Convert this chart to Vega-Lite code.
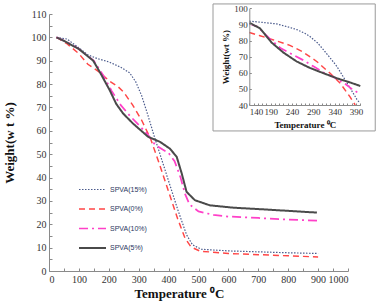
{
  "$schema": "https://vega.github.io/schema/vega-lite/v6.json",
  "autosize": {"type": "none"},
  "padding": {"left": 49, "top": 14, "right": 28, "bottom": 37},
  "width": 299,
  "height": 257,
  "background": "white",
  "config": {"view": {"stroke": null}, "axis": {"grid": false}},
  "datasets": {
    "main": [
      {"s": "SPVA(15%)", "T": 25, "W": 100}, {"s": "SPVA(15%)", "T": 60, "W": 99.3}, {"s": "SPVA(15%)", "T": 100, "W": 95.5}, {"s": "SPVA(15%)", "T": 130, "W": 92.5}, {"s": "SPVA(15%)", "T": 160, "W": 91}, {"s": "SPVA(15%)", "T": 200, "W": 89.5}, {"s": "SPVA(15%)", "T": 240, "W": 87.2}, {"s": "SPVA(15%)", "T": 270, "W": 84.8}, {"s": "SPVA(15%)", "T": 290, "W": 81}, {"s": "SPVA(15%)", "T": 310, "W": 75}, {"s": "SPVA(15%)", "T": 330, "W": 67}, {"s": "SPVA(15%)", "T": 350, "W": 58.5}, {"s": "SPVA(15%)", "T": 370, "W": 50.5}, {"s": "SPVA(15%)", "T": 400, "W": 38.5}, {"s": "SPVA(15%)", "T": 430, "W": 26.5}, {"s": "SPVA(15%)", "T": 460, "W": 15.5}, {"s": "SPVA(15%)", "T": 480, "W": 11.2}, {"s": "SPVA(15%)", "T": 510, "W": 9.3}, {"s": "SPVA(15%)", "T": 600, "W": 8.6}, {"s": "SPVA(15%)", "T": 700, "W": 8.2}, {"s": "SPVA(15%)", "T": 800, "W": 7.8}, {"s": "SPVA(15%)", "T": 900, "W": 7.5},
      {"s": "SPVA(0%)", "T": 25, "W": 100}, {"s": "SPVA(0%)", "T": 60, "W": 97.3}, {"s": "SPVA(0%)", "T": 100, "W": 93}, {"s": "SPVA(0%)", "T": 130, "W": 88.5}, {"s": "SPVA(0%)", "T": 170, "W": 85}, {"s": "SPVA(0%)", "T": 200, "W": 81.5}, {"s": "SPVA(0%)", "T": 230, "W": 79}, {"s": "SPVA(0%)", "T": 250, "W": 76.5}, {"s": "SPVA(0%)", "T": 280, "W": 71}, {"s": "SPVA(0%)", "T": 310, "W": 64.5}, {"s": "SPVA(0%)", "T": 340, "W": 56.5}, {"s": "SPVA(0%)", "T": 370, "W": 45.5}, {"s": "SPVA(0%)", "T": 400, "W": 34}, {"s": "SPVA(0%)", "T": 430, "W": 22.5}, {"s": "SPVA(0%)", "T": 455, "W": 14}, {"s": "SPVA(0%)", "T": 475, "W": 10.3}, {"s": "SPVA(0%)", "T": 505, "W": 8.5}, {"s": "SPVA(0%)", "T": 600, "W": 7.5}, {"s": "SPVA(0%)", "T": 700, "W": 7}, {"s": "SPVA(0%)", "T": 800, "W": 6.5}, {"s": "SPVA(0%)", "T": 900, "W": 6},
      {"s": "SPVA(10%)", "T": 25, "W": 100}, {"s": "SPVA(10%)", "T": 60, "W": 98}, {"s": "SPVA(10%)", "T": 100, "W": 95}, {"s": "SPVA(10%)", "T": 150, "W": 90}, {"s": "SPVA(10%)", "T": 180, "W": 84}, {"s": "SPVA(10%)", "T": 210, "W": 77}, {"s": "SPVA(10%)", "T": 240, "W": 71}, {"s": "SPVA(10%)", "T": 270, "W": 66.5}, {"s": "SPVA(10%)", "T": 300, "W": 62.5}, {"s": "SPVA(10%)", "T": 330, "W": 58.5}, {"s": "SPVA(10%)", "T": 355, "W": 54}, {"s": "SPVA(10%)", "T": 380, "W": 52}, {"s": "SPVA(10%)", "T": 400, "W": 50.5}, {"s": "SPVA(10%)", "T": 420, "W": 47}, {"s": "SPVA(10%)", "T": 440, "W": 40}, {"s": "SPVA(10%)", "T": 455, "W": 33}, {"s": "SPVA(10%)", "T": 470, "W": 28.5}, {"s": "SPVA(10%)", "T": 500, "W": 25.5}, {"s": "SPVA(10%)", "T": 550, "W": 24}, {"s": "SPVA(10%)", "T": 600, "W": 23.3}, {"s": "SPVA(10%)", "T": 700, "W": 22.7}, {"s": "SPVA(10%)", "T": 800, "W": 22}, {"s": "SPVA(10%)", "T": 900, "W": 21.5},
      {"s": "SPVA(5%)", "T": 25, "W": 100}, {"s": "SPVA(5%)", "T": 50, "W": 98.5}, {"s": "SPVA(5%)", "T": 100, "W": 95}, {"s": "SPVA(5%)", "T": 148, "W": 90}, {"s": "SPVA(5%)", "T": 175, "W": 84}, {"s": "SPVA(5%)", "T": 203, "W": 77.4}, {"s": "SPVA(5%)", "T": 225, "W": 71.5}, {"s": "SPVA(5%)", "T": 248, "W": 67.4}, {"s": "SPVA(5%)", "T": 281, "W": 63.1}, {"s": "SPVA(5%)", "T": 332, "W": 57.4}, {"s": "SPVA(5%)", "T": 371, "W": 55.3}, {"s": "SPVA(5%)", "T": 404, "W": 52.4}, {"s": "SPVA(5%)", "T": 427, "W": 48.9}, {"s": "SPVA(5%)", "T": 444, "W": 41.7}, {"s": "SPVA(5%)", "T": 460, "W": 33.9}, {"s": "SPVA(5%)", "T": 488, "W": 30.3}, {"s": "SPVA(5%)", "T": 538, "W": 28.1}, {"s": "SPVA(5%)", "T": 617, "W": 27.1}, {"s": "SPVA(5%)", "T": 728, "W": 26.3}, {"s": "SPVA(5%)", "T": 896, "W": 25}
    ],
    "inset": [
      {"s": "SPVA(15%)", "T": 140, "W": 92}, {"s": "SPVA(15%)", "T": 170, "W": 91.3}, {"s": "SPVA(15%)", "T": 204, "W": 90.3}, {"s": "SPVA(15%)", "T": 230, "W": 88.5}, {"s": "SPVA(15%)", "T": 251, "W": 86.8}, {"s": "SPVA(15%)", "T": 270, "W": 84.5}, {"s": "SPVA(15%)", "T": 282, "W": 82.5}, {"s": "SPVA(15%)", "T": 300, "W": 78.5}, {"s": "SPVA(15%)", "T": 313, "W": 74.5}, {"s": "SPVA(15%)", "T": 330, "W": 69}, {"s": "SPVA(15%)", "T": 345, "W": 64}, {"s": "SPVA(15%)", "T": 360, "W": 57.5}, {"s": "SPVA(15%)", "T": 375, "W": 51}, {"s": "SPVA(15%)", "T": 392, "W": 43.5}, {"s": "SPVA(15%)", "T": 398, "W": 41.5},
      {"s": "SPVA(0%)", "T": 140, "W": 85}, {"s": "SPVA(0%)", "T": 165, "W": 83}, {"s": "SPVA(0%)", "T": 195, "W": 80.5}, {"s": "SPVA(0%)", "T": 235, "W": 77}, {"s": "SPVA(0%)", "T": 265, "W": 73}, {"s": "SPVA(0%)", "T": 298, "W": 67}, {"s": "SPVA(0%)", "T": 330, "W": 59.5}, {"s": "SPVA(0%)", "T": 353, "W": 53.5}, {"s": "SPVA(0%)", "T": 376, "W": 45}, {"s": "SPVA(0%)", "T": 388, "W": 40},
      {"s": "SPVA(10%)", "T": 140, "W": 90.5}, {"s": "SPVA(10%)", "T": 160, "W": 88.5}, {"s": "SPVA(10%)", "T": 190, "W": 80.5}, {"s": "SPVA(10%)", "T": 215, "W": 75}, {"s": "SPVA(10%)", "T": 240, "W": 71.5}, {"s": "SPVA(10%)", "T": 265, "W": 68}, {"s": "SPVA(10%)", "T": 290, "W": 64}, {"s": "SPVA(10%)", "T": 315, "W": 60}, {"s": "SPVA(10%)", "T": 340, "W": 57}, {"s": "SPVA(10%)", "T": 365, "W": 53}, {"s": "SPVA(10%)", "T": 380, "W": 50}, {"s": "SPVA(10%)", "T": 398, "W": 47},
      {"s": "SPVA(5%)", "T": 140, "W": 91}, {"s": "SPVA(5%)", "T": 165, "W": 87.6}, {"s": "SPVA(5%)", "T": 192, "W": 78.8}, {"s": "SPVA(5%)", "T": 220, "W": 72.5}, {"s": "SPVA(5%)", "T": 251, "W": 67}, {"s": "SPVA(5%)", "T": 282, "W": 63}, {"s": "SPVA(5%)", "T": 313, "W": 59.8}, {"s": "SPVA(5%)", "T": 345, "W": 56.6}, {"s": "SPVA(5%)", "T": 376, "W": 54}, {"s": "SPVA(5%)", "T": 400, "W": 51.8}
    ],
    "box": [{"T": 55, "T2": 435, "W": 23.9, "W2": 102.7}]
  },
  "layer": [
    {
      "data": {"name": "main"},
      "mark": {"type": "line"},
      "encoding": {
        "x": {"field": "T", "type": "quantitative", "scale": {"domain": [0, 1000], "nice": false},
          "axis": {"values": [0,50,100,150,200,250,300,350,400,450,500,550,600,650,700,750,800,850,900,950,1000],
            "format": "d",
            "labelExpr": "datum.value % 100 === 0 ? datum.label : ''",
            "tickSize": -3, "labelPadding": 6, "domainColor": "#8a8a8a", "tickColor": "#8a8a8a",
            "labelFont": "Liberation Serif", "labelFontSize": 10, "labelColor": "#333333",
            "title": "Temperature ⁰C", "titleFont": "Liberation Serif", "titleFontSize": 13, "titleFontWeight": "bold", "titleColor": "#111111", "titleX": 130, "titlePadding": 3}},
        "y": {"field": "W", "type": "quantitative", "scale": {"domain": [0, 110], "nice": false},
          "axis": {"values": [0,5,10,15,20,25,30,35,40,45,50,55,60,65,70,75,80,85,90,95,100,105,110],
            "labelExpr": "datum.value % 10 === 0 ? datum.label : ''",
            "tickSize": -3, "labelPadding": 6, "domainColor": "#8a8a8a", "tickColor": "#8a8a8a",
            "labelFont": "Liberation Serif", "labelFontSize": 10, "labelColor": "#333333",
            "title": "Weight(w t %)", "titleFont": "Liberation Serif", "titleFontSize": 13, "titleFontWeight": "bold", "titleColor": "#111111", "titlePadding": 15}},
        "color": {"field": "s", "type": "nominal",
          "scale": {"domain": ["SPVA(15%)", "SPVA(0%)", "SPVA(10%)", "SPVA(5%)"], "range": ["#4a5a8c", "#ff4646", "#ff40c8", "#4a4a4a"]},
          "legend": {"title": null, "orient": "none", "legendX": 29, "legendY": 161, "symbolType": "stroke", "symbolSize": 729,
            "labelFont": "Liberation Sans", "labelFontSize": 7, "labelColor": "#2a3560", "rowPadding": 1.5, "padding": 0, "labelOffset": 3}},
        "strokeDash": {"field": "s", "type": "nominal",
          "scale": {"domain": ["SPVA(15%)", "SPVA(0%)", "SPVA(10%)", "SPVA(5%)"], "range": [[1.5, 1.5], [6, 4], [9, 4, 2, 4], [1, 0]]}, "legend": null},
        "strokeWidth": {"field": "s", "type": "nominal",
          "scale": {"domain": ["SPVA(15%)", "SPVA(0%)", "SPVA(10%)", "SPVA(5%)"], "range": [1.2, 2, 1.6, 1.6]}, "legend": null},
        "order": {"field": "T", "type": "quantitative"}
      }
    },
    {
      "encoding": {
        "x": {"field": "T", "type": "quantitative", "scale": {"domain": [140, 400], "nice": false, "range": [200.3, 311.3]},
          "axis": {"orient": "bottom", "offset": -166, "zindex": 2, "values": [140,150,160,170,180,190,200,210,220,230,240,250,260,270,280,290,300,310,320,330,340,350,360,370,380,390,400],
            "labelExpr": "(datum.value - 140) % 50 === 0 ? datum.label : ''",
            "tickSize": -2, "labelPadding": 4, "domainColor": "#8a8a8a", "tickColor": "#8a8a8a",
            "labelFont": "Liberation Serif", "labelFontSize": 9, "labelColor": "#333333",
            "title": "Temperature ⁰C", "titleFont": "Liberation Serif", "titleFontSize": 9, "titleFontWeight": "bold", "titleColor": "#111111", "titlePadding": 4}},
        "y": {"field": "W", "type": "quantitative", "scale": {"domain": [40, 100], "nice": false, "range": [91, -5.7]},
          "axis": {"orient": "left", "offset": -200.3, "zindex": 2, "values": [40,50,60,70,80,90,100],
            "tickSize": -2, "labelPadding": 4, "domainColor": "#8a8a8a", "tickColor": "#8a8a8a",
            "labelFont": "Liberation Serif", "labelFontSize": 9, "labelColor": "#333333",
            "title": "Weight(wt %)", "titleFont": "Liberation Serif", "titleFontSize": 9, "titleFontWeight": "bold", "titleColor": "#111111", "titlePadding": 3}}
      },
      "layer": [
        {
          "data": {"name": "box"},
          "mark": {"type": "rect", "fill": "white", "stroke": "#9a9a9a", "strokeWidth": 1},
          "encoding": {
            "x2": {"field": "T2"},
            "y2": {"field": "W2"}
          }
        },
        {
          "data": {"name": "inset"},
          "mark": {"type": "line"},
          "encoding": {
            "color": {"field": "s", "type": "nominal"},
            "strokeDash": {"field": "s", "type": "nominal", "legend": null},
            "strokeWidth": {"field": "s", "type": "nominal", "legend": null},
            "order": {"field": "T", "type": "quantitative"}
          }
        }
      ]
    }
  ],
  "resolve": {"scale": {"x": "independent", "y": "independent"}, "axis": {"x": "independent", "y": "independent"}}
}
